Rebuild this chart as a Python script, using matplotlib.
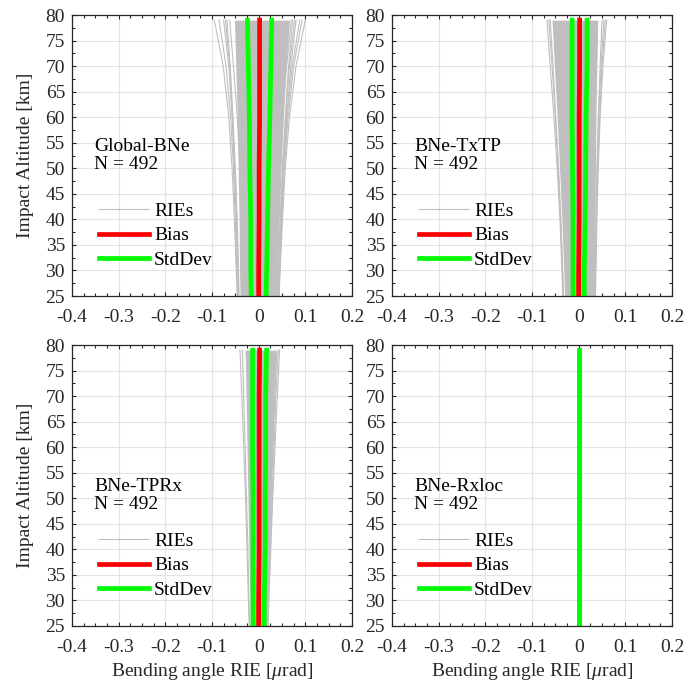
import numpy as np
import matplotlib
matplotlib.use("Agg")
import matplotlib.pyplot as plt
from matplotlib.ticker import MultipleLocator

plt.rcParams['font.family'] = ['Liberation Serif', 'DejaVu Serif']
plt.rcParams['mathtext.fontset'] = 'custom'
plt.rcParams['mathtext.rm'] = 'Liberation Serif'
plt.rcParams['mathtext.it'] = 'Liberation Serif:italic'
plt.rcParams['font.size'] = 14

# altitudes (km) where the curves are read
alt = [25, 30, 40, 50, 60, 70, 79]

titles = ["Global-BNe", "BNe-TxTP", "BNe-TPRx", "BNe-Rxloc"]
n_obs = [492, 492, 492, 492]

# Global-BNe
p1_bias = [0.000, 0.000, 0.001, 0.001, 0.002, 0.002, 0.002]
p1_std = [0.016, 0.017, 0.018, 0.020, 0.022, 0.024, 0.026]
p1_lo = [-0.040, -0.041, -0.042, -0.044, -0.046, -0.049, -0.052]
p1_hi = [0.040, 0.041, 0.044, 0.048, 0.053, 0.059, 0.066]
p1_rie = [
    [-0.045, -0.047, -0.050, -0.054, -0.060, -0.070, -0.085],
    [-0.044, -0.045, -0.048, -0.052, -0.057, -0.064, -0.075],
    [-0.046, -0.048, -0.052, -0.057, -0.064, -0.076, -0.095],
    [-0.042, -0.043, -0.046, -0.050, -0.055, -0.061, -0.068],
    [-0.043, -0.044, -0.047, -0.051, -0.056, -0.062, -0.071],
    [0.043, 0.045, 0.049, 0.054, 0.061, 0.072, 0.088],
    [0.042, 0.044, 0.048, 0.053, 0.060, 0.069, 0.080],
    [0.044, 0.046, 0.051, 0.057, 0.066, 0.080, 0.100],
    [0.041, 0.043, 0.046, 0.051, 0.057, 0.064, 0.073],
    [0.043, 0.045, 0.050, 0.055, 0.063, 0.075, 0.093],
    [0.042, 0.044, 0.047, 0.052, 0.058, 0.066, 0.077],
    [-0.030, -0.032, -0.035, -0.040, -0.046, -0.054, -0.062],
    [0.030, 0.033, 0.037, 0.043, 0.050, 0.060, 0.070],
]

# BNe-TxTP
p2_bias = [0.000, 0.000, 0.001, 0.001, 0.001, 0.002, 0.002]
p2_std = [0.012, 0.012, 0.013, 0.014, 0.015, 0.016, 0.016]
p2_lo = [-0.030, -0.032, -0.036, -0.041, -0.046, -0.052, -0.057]
p2_hi = [0.033, 0.034, 0.035, 0.036, 0.037, 0.039, 0.041]
p2_rie = [
    [-0.034, -0.036, -0.040, -0.046, -0.053, -0.061, -0.068],
    [-0.033, -0.035, -0.039, -0.044, -0.050, -0.057, -0.064],
    [-0.032, -0.034, -0.038, -0.043, -0.049, -0.055, -0.061],
    [0.036, 0.037, 0.039, 0.042, 0.046, 0.052, 0.060],
    [0.035, 0.036, 0.038, 0.040, 0.043, 0.048, 0.054],
    [0.034, 0.035, 0.037, 0.039, 0.042, 0.046, 0.050],
    [0.035, 0.036, 0.038, 0.041, 0.045, 0.050, 0.057],
]

# BNe-TPRx
p3_bias = [0.000, 0.000, 0.001, 0.001, 0.001, 0.001, 0.002]
p3_std = [0.012, 0.012, 0.013, 0.013, 0.014, 0.014, 0.015]
p3_lo = [-0.018, -0.019, -0.021, -0.023, -0.025, -0.027, -0.029]
p3_hi = [0.018, 0.020, 0.023, 0.027, 0.031, 0.035, 0.039]
p3_rie = [
    [-0.020, -0.022, -0.025, -0.028, -0.032, -0.036, -0.040],
    [-0.019, -0.021, -0.023, -0.026, -0.029, -0.032, -0.035],
    [0.020, 0.022, 0.026, 0.030, 0.035, 0.040, 0.045],
    [0.019, 0.021, 0.025, 0.029, 0.033, 0.037, 0.042],
]

# BNe-Rxloc
p4_bias = [0, 0, 0, 0, 0, 0, 0]
p4_std = [0, 0, 0, 0, 0, 0, 0]
p4_lo = [0, 0, 0, 0, 0, 0, 0]
p4_hi = [0, 0, 0, 0, 0, 0, 0]
p4_rie = [[0, 0, 0, 0, 0, 0, 0]]

panels = [
    (p1_bias, p1_std, p1_lo, p1_hi, p1_rie),
    (p2_bias, p2_std, p2_lo, p2_hi, p2_rie),
    (p3_bias, p3_std, p3_lo, p3_hi, p3_rie),
    (p4_bias, p4_std, p4_lo, p4_hi, p4_rie),
]

W, H = 684, 686
fig = plt.figure(figsize=(W / 100, H / 100), dpi=100)

# axes boxes in pixels: left, top, right, bottom
boxes = [(72, 15, 352, 296), (392, 15, 672, 296),
         (72, 345, 352, 626), (392, 345, 672, 626)]

gray = '#bfbfbf'
dark = '#262626'

for i, (bias, std, lo, hi, rie) in enumerate(panels):
    l, t, r, b = boxes[i]
    ax = fig.add_axes([l / W, 1 - b / H, (r - l) / W, (b - t) / H])

    bias = np.array(bias)
    std = np.array(std)

    ax.fill_betweenx(alt, lo, hi, color=gray, lw=0)
    rie_line = None
    for line in rie:
        rie_line, = ax.plot(line, alt, color=gray, lw=0.8)
    bias_line, = ax.plot(bias, alt, color='#ff0000', lw=3.4)
    std_line, = ax.plot(bias - std, alt, color='#00ff00', lw=3.4)
    ax.plot(bias + std, alt, color='#00ff00', lw=3.4)

    ax.set_xlim(-0.4, 0.2)
    ax.set_ylim(25, 80)
    ax.xaxis.set_minor_locator(MultipleLocator(0.025))
    ax.yaxis.set_major_locator(MultipleLocator(5))
    ax.yaxis.set_minor_locator(MultipleLocator(2.5))
    ax.set_xticks(np.arange(-0.4, 0.21, 0.1))
    ax.set_xticklabels(['-0.4', '-0.3', '-0.2', '-0.1', '0', '0.1', '0.2'])
    ax.grid(True, which='major', color='#e3e3e3', lw=0.8)
    ax.set_axisbelow(True)
    ax.tick_params(which='both', direction='in', top=True, right=True,
                   colors=dark, labelsize=14)
    ax.tick_params(axis='x', which='major', pad=9)
    ax.tick_params(axis='y', which='major', pad=5)
    ax.tick_params(which='major', length=3, width=0.8)
    ax.tick_params(which='minor', length=2, width=0.8)
    for s in ax.spines.values():
        s.set_color(dark)
        s.set_linewidth(0.9)

    if i % 2 == 0:
        ax.set_ylabel('Impact Altitude [km]', color=dark, fontsize=14, labelpad=8)
    if i >= 2:
        ax.set_xlabel(r'Bending angle RIE [$\mu$rad]', color=dark, fontsize=14, labelpad=4)

    ty = 0.50 if i < 2 else 0.465
    ax.text(0.08, ty, titles[i] + '\nN = ' + str(n_obs[i]), transform=ax.transAxes,
            ha='left', va='center', fontsize=14, color='black', linespacing=1.05)

    ax.legend([rie_line, bias_line, std_line], ['RIEs', 'Bias', 'StdDev'],
              loc='center left', bbox_to_anchor=(0.095, 0.215), frameon=False,
              borderpad=0, borderaxespad=0, handlelength=2.6, handletextpad=0.25,
              labelspacing=0.35, fontsize=14)

fig.savefig('out.png', dpi=100)
